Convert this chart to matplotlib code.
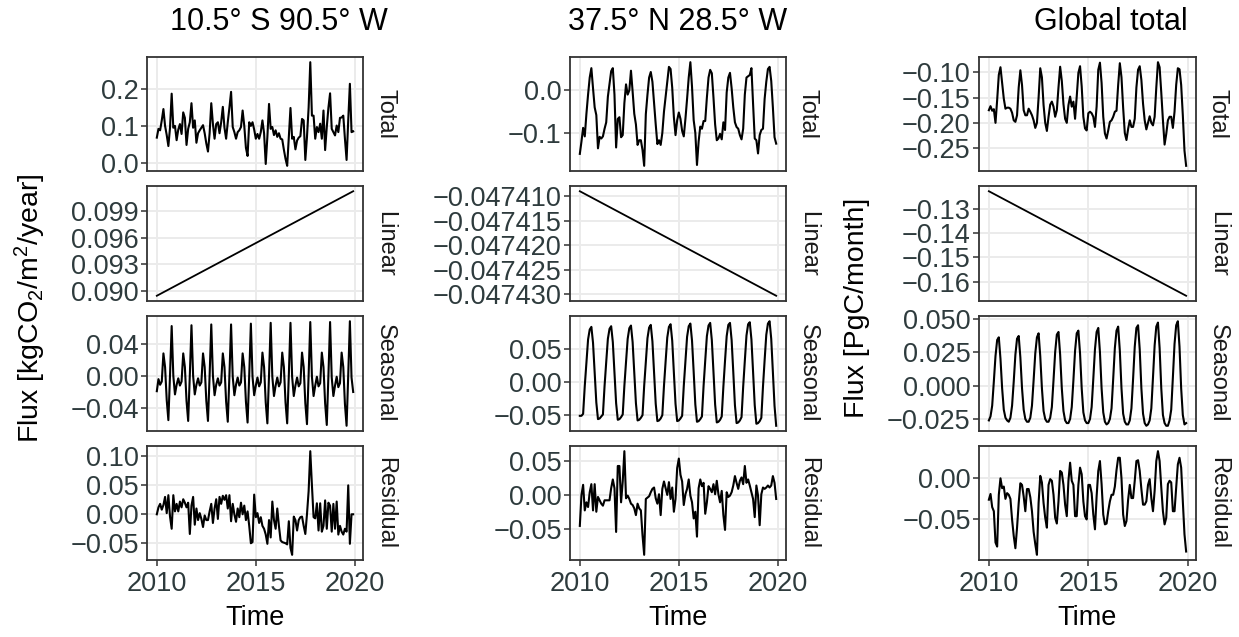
import matplotlib.pyplot as plt
import numpy as np

plt.rcParams['font.family'] = ['Liberation Sans', 'DejaVu Sans']
plt.rcParams['mathtext.fontset'] = 'custom'
plt.rcParams['mathtext.rm'] = 'Liberation Sans'
plt.rcParams['mathtext.it'] = 'Liberation Sans'

# monthly time axis, Jan 2010 .. Dec 2019
time = 2010 + np.arange(120) / 12

# ---- 10.5 S 90.5 W ----
left_total = [
    0.068, 0.092, 0.088, 0.115, 0.146, 0.100, 0.075, 0.045, 0.095, 0.188, 0.095, 0.100,
    0.061, 0.090, 0.105, 0.078, 0.137, 0.122, 0.048, 0.092, 0.110, 0.162, 0.095, 0.115,
    0.054, 0.080, 0.088, 0.095, 0.102, 0.080, 0.052, 0.030, 0.080, 0.162, 0.105, 0.065,
    0.105, 0.110, 0.080, 0.110, 0.152, 0.095, 0.065, 0.110, 0.150, 0.193, 0.097, 0.083,
    0.065, 0.083, 0.088, 0.097, 0.142, 0.100, 0.040, 0.018, 0.110, 0.100, 0.110, 0.090,
    0.065, 0.078, 0.065, 0.083, 0.115, 0.080, -0.004, 0.070, 0.160, 0.092, 0.097, 0.075,
    0.088, 0.070, 0.080, 0.065, 0.063, 0.035, 0.010, -0.009, 0.070, 0.149, 0.065, 0.070,
    0.036, 0.060, 0.068, 0.072, 0.119, 0.115, 0.007, 0.070, 0.150, 0.274, 0.128, 0.128,
    0.065, 0.097, 0.083, 0.106, 0.065, 0.142, 0.034, 0.097, 0.150, 0.189, 0.092, 0.083,
    0.074, 0.101, 0.083, 0.122, 0.123, 0.128, 0.065, 0.007, 0.115, 0.215, 0.083, 0.085,
]
left_linear = [0.08943, 0.1013]
left_seasonal = [
    -0.019, -0.004, -0.011, -0.007, 0.028, 0.011, -0.030, -0.055, 0.001, 0.062, 0.000, -0.023,
    -0.011, -0.003, -0.012, -0.007, 0.028, 0.011, -0.031, -0.056, 0.001, 0.063, 0.000, -0.023,
    -0.011, -0.003, -0.012, -0.008, 0.028, 0.011, -0.031, -0.056, 0.001, 0.064, 0.000, -0.024,
    -0.011, -0.003, -0.012, -0.008, 0.028, 0.011, -0.032, -0.057, 0.001, 0.064, -0.001, -0.024,
    -0.011, -0.002, -0.012, -0.008, 0.028, 0.011, -0.032, -0.058, 0.001, 0.065, -0.001, -0.024,
    -0.012, -0.002, -0.013, -0.008, 0.029, 0.011, -0.033, -0.059, 0.001, 0.066, -0.001, -0.025,
    -0.012, -0.002, -0.013, -0.008, 0.029, 0.011, -0.033, -0.059, 0.001, 0.066, -0.001, -0.025,
    -0.012, -0.002, -0.013, -0.009, 0.029, 0.011, -0.034, -0.060, 0.001, 0.067, -0.001, -0.025,
    -0.012, -0.001, -0.013, -0.009, 0.029, 0.011, -0.034, -0.061, 0.001, 0.067, -0.002, -0.025,
    -0.012, -0.001, -0.014, -0.009, 0.029, 0.011, -0.035, -0.062, 0.001, 0.068, -0.002, -0.020,
]
left_residual = [
    0.000, 0.012, 0.018, 0.008, 0.016, 0.030, 0.002, 0.033, -0.004, -0.025, 0.033, 0.005,
    0.018, 0.005, 0.022, 0.012, 0.026, 0.020, 0.012, 0.020, -0.034, 0.015, 0.030, -0.018,
    0.010, -0.010, 0.002, -0.008, -0.022, -0.002, -0.010, -0.010, 0.005, 0.018, -0.015, 0.010,
    0.026, -0.008, 0.030, 0.018, 0.032, 0.025, 0.033, 0.010, 0.033, -0.012, 0.018, 0.000,
    -0.013, 0.010, -0.005, 0.020, 0.000, 0.015, -0.010, 0.005, -0.020, -0.050, -0.048, 0.034,
    -0.005, 0.002, -0.015, -0.005, -0.020, -0.025, -0.035, -0.051, -0.010, -0.040, 0.022, -0.010,
    -0.025, 0.010, -0.020, -0.045, -0.048, -0.049, -0.050, -0.052, -0.012, -0.058, -0.070, -0.004,
    -0.010, -0.028, -0.010, -0.005, -0.004, -0.020, -0.034, 0.000, 0.040, 0.109, 0.050, -0.005,
    -0.007, 0.019, -0.028, 0.019, -0.030, -0.020, 0.024, -0.025, 0.020, 0.015, -0.030, 0.018,
    -0.025, 0.022, -0.035, -0.020, -0.030, -0.035, -0.025, -0.030, 0.050, -0.051, 0.000, 0.000,
]

# ---- 37.5 N 28.5 W ----
mid_total = [
    -0.149, -0.120, -0.088, -0.108, -0.055, -0.010, 0.030, 0.052, 0.005, -0.040, -0.058, -0.136,
    -0.109, -0.113, -0.108, -0.090, -0.075, -0.015, 0.015, 0.045, 0.052, -0.010, -0.134, -0.067,
    -0.063, -0.110, -0.105, -0.030, 0.014, -0.010, 0.000, 0.046, -0.003, -0.055, -0.080, -0.128,
    -0.117, -0.117, -0.140, -0.177, -0.056, -0.010, 0.030, 0.043, 0.020, -0.030, -0.080, -0.126,
    -0.117, -0.128, -0.100, -0.050, -0.015, 0.020, 0.055, 0.050, 0.006, -0.063, -0.105, -0.070,
    -0.052, -0.067, -0.095, -0.108, -0.067, -0.020, 0.030, 0.066, 0.008, -0.070, -0.100, -0.175,
    -0.120, -0.085, -0.090, -0.072, -0.072, -0.017, 0.030, 0.048, 0.040, -0.017, -0.080, -0.117,
    -0.113, -0.102, -0.115, -0.075, -0.093, -0.005, 0.030, 0.041, 0.005, -0.040, -0.075, -0.086,
    -0.090, -0.105, -0.115, -0.090, -0.010, 0.030, 0.033, 0.036, 0.052, -0.032, -0.113, -0.117,
    -0.148, -0.105, -0.093, -0.090, -0.020, 0.020, 0.050, 0.055, 0.022, -0.040, -0.110, -0.125,
]
mid_linear = [-0.0474090, -0.0474303]
mid_seasonal = [
    -0.051, -0.051, -0.048, -0.006, 0.029, 0.064, 0.079, 0.083, 0.059, 0.014, -0.031, -0.056,
    -0.055, -0.052, -0.049, -0.006, 0.030, 0.065, 0.080, 0.084, 0.060, 0.014, -0.032, -0.057,
    -0.056, -0.053, -0.049, -0.006, 0.030, 0.065, 0.081, 0.085, 0.060, 0.014, -0.032, -0.058,
    -0.057, -0.054, -0.050, -0.006, 0.030, 0.066, 0.082, 0.086, 0.061, 0.014, -0.033, -0.059,
    -0.058, -0.055, -0.050, -0.006, 0.031, 0.067, 0.083, 0.087, 0.062, 0.014, -0.033, -0.059,
    -0.058, -0.055, -0.051, -0.006, 0.031, 0.068, 0.084, 0.088, 0.062, 0.015, -0.034, -0.060,
    -0.059, -0.056, -0.052, -0.006, 0.032, 0.069, 0.085, 0.089, 0.063, 0.015, -0.034, -0.061,
    -0.060, -0.057, -0.052, -0.007, 0.032, 0.069, 0.086, 0.089, 0.063, 0.015, -0.035, -0.062,
    -0.061, -0.058, -0.053, -0.007, 0.032, 0.070, 0.087, 0.090, 0.064, 0.015, -0.035, -0.063,
    -0.062, -0.059, -0.054, -0.007, 0.033, 0.071, 0.088, 0.0915, 0.065, 0.015, -0.036, -0.066,
]
mid_residual = [
    -0.046, 0.000, 0.015, -0.023, -0.011, -0.018, 0.004, 0.016, -0.023, 0.016, -0.025, -0.003,
    -0.008, -0.013, -0.016, -0.008, -0.008, -0.008, -0.008, 0.010, 0.023, 0.010, -0.055, 0.043,
    0.043, -0.011, 0.020, 0.065, -0.005, -0.001, -0.006, -0.013, -0.015, -0.020, -0.030, -0.013,
    -0.020, -0.023, -0.060, -0.089, -0.006, -0.004, -0.002, 0.004, 0.009, 0.011, -0.005, -0.013,
    0.001, -0.030, 0.009, 0.020, 0.010, 0.000, 0.019, -0.006, 0.011, -0.025, -0.006, 0.040,
    0.054, 0.030, 0.020, -0.015, 0.001, 0.009, 0.023, -0.001, -0.011, -0.035, -0.025, -0.062,
    0.010, 0.023, 0.013, 0.018, -0.028, -0.011, 0.013, 0.009, 0.004, 0.016, 0.001, 0.021,
    0.001, -0.011, 0.006, -0.030, -0.052, 0.004, -0.003, -0.001, 0.004, 0.014, 0.028, 0.018,
    0.009, 0.021, 0.026, 0.016, 0.043, 0.018, 0.023, 0.014, 0.004, -0.006, -0.033, 0.014,
    -0.001, -0.045, 0.001, 0.011, 0.009, 0.011, 0.014, 0.011, 0.014, 0.028, 0.018, -0.006,
]

# ---- Global total ----
glob_total = [
    -0.175, -0.167, -0.176, -0.173, -0.200, -0.155, -0.105, -0.090, -0.121, -0.152, -0.172, -0.170,
    -0.170, -0.172, -0.180, -0.195, -0.198, -0.185, -0.130, -0.096, -0.125, -0.175, -0.185, -0.185,
    -0.172, -0.178, -0.185, -0.195, -0.210, -0.200, -0.150, -0.092, -0.110, -0.165, -0.200, -0.216,
    -0.188, -0.164, -0.158, -0.168, -0.188, -0.175, -0.130, -0.089, -0.117, -0.163, -0.192, -0.200,
    -0.165, -0.148, -0.168, -0.158, -0.192, -0.148, -0.101, -0.088, -0.128, -0.188, -0.211, -0.215,
    -0.181, -0.178, -0.181, -0.188, -0.208, -0.168, -0.095, -0.081, -0.121, -0.188, -0.221, -0.231,
    -0.215, -0.198, -0.195, -0.188, -0.178, -0.176, -0.125, -0.082, -0.110, -0.170, -0.220, -0.234,
    -0.212, -0.195, -0.208, -0.208, -0.192, -0.130, -0.095, -0.088, -0.115, -0.162, -0.195, -0.213,
    -0.200, -0.187, -0.200, -0.205, -0.188, -0.130, -0.080, -0.090, -0.140, -0.195, -0.243, -0.222,
    -0.195, -0.188, -0.188, -0.210, -0.178, -0.125, -0.092, -0.094, -0.125, -0.185, -0.255, -0.285,
]
glob_linear = [-0.1229, -0.1657]
glob_seasonal = [
    -0.026, -0.023, -0.015, 0.003, 0.022, 0.034, 0.036, 0.020, -0.002, -0.018, -0.024, -0.026,
    -0.027, -0.024, -0.015, 0.003, 0.023, 0.035, 0.037, 0.021, -0.002, -0.018, -0.025, -0.027,
    -0.027, -0.024, -0.015, 0.004, 0.024, 0.036, 0.039, 0.022, -0.002, -0.019, -0.025, -0.027,
    -0.027, -0.024, -0.016, 0.004, 0.025, 0.038, 0.040, 0.023, -0.002, -0.019, -0.026, -0.028,
    -0.028, -0.025, -0.016, 0.004, 0.026, 0.039, 0.041, 0.024, -0.002, -0.020, -0.026, -0.028,
    -0.028, -0.025, -0.016, 0.005, 0.027, 0.040, 0.043, 0.025, -0.002, -0.020, -0.027, -0.029,
    -0.028, -0.025, -0.017, 0.005, 0.028, 0.041, 0.044, 0.026, -0.002, -0.021, -0.027, -0.029,
    -0.029, -0.026, -0.017, 0.005, 0.029, 0.043, 0.045, 0.027, -0.002, -0.021, -0.028, -0.030,
    -0.029, -0.026, -0.017, 0.006, 0.030, 0.044, 0.047, 0.028, -0.002, -0.022, -0.028, -0.030,
    -0.030, -0.026, -0.018, 0.006, 0.031, 0.045, 0.048, 0.029, -0.002, -0.022, -0.029, -0.028,
]
glob_residual = [
    -0.026, -0.019, -0.035, -0.040, -0.078, -0.083, -0.020, 0.000, -0.012, -0.010, -0.025, -0.018,
    -0.020, -0.025, -0.050, -0.070, -0.085, -0.060, -0.030, -0.006, -0.008, -0.022, -0.040, -0.013,
    -0.013, -0.023, -0.040, -0.065, -0.080, -0.093, -0.030, 0.003, -0.005, -0.030, -0.048, -0.060,
    -0.008, -0.001, -0.003, -0.020, -0.048, -0.055, -0.028, 0.009, 0.007, -0.008, -0.032, -0.046,
    -0.003, 0.019, -0.003, -0.008, -0.046, -0.046, -0.008, 0.013, 0.005, -0.028, -0.046, -0.050,
    -0.008, -0.008, -0.018, -0.044, -0.062, -0.022, 0.009, 0.021, -0.007, -0.044, -0.056, -0.055,
    -0.040, -0.028, -0.020, -0.020, -0.010, 0.010, 0.025, 0.025, 0.000, -0.044, -0.058, -0.052,
    -0.026, -0.008, -0.024, -0.024, -0.003, 0.021, 0.022, 0.009, -0.013, -0.032, -0.032, -0.028,
    -0.008, -0.001, -0.024, -0.040, -0.015, 0.021, 0.033, 0.021, -0.011, -0.040, -0.056, -0.048,
    -0.007, -0.003, -0.005, -0.040, -0.040, -0.011, 0.017, 0.025, 0.013, -0.028, -0.068, -0.089,
]

titles = ['10.5° S 90.5° W', '37.5° N 28.5° W', 'Global total']
rows = ['Total', 'Linear', 'Seasonal', 'Residual']
x_ticks = [2010, 2015, 2020]

columns = [
    [left_total, left_linear, left_seasonal, left_residual],
    [mid_total, mid_linear, mid_seasonal, mid_residual],
    [glob_total, glob_linear, glob_seasonal, glob_residual],
]
y_ticks = [
    [['0.0', '0.1', '0.2'], ['0.090', '0.093', '0.096', '0.099'],
     ['−0.04', '0.00', '0.04'], ['−0.05', '0.00', '0.05', '0.10']],
    [['−0.1', '0.0'], ['−0.047430', '−0.047425', '−0.047420', '−0.047415', '−0.047410'],
     ['−0.05', '0.00', '0.05'], ['−0.05', '0.00', '0.05']],
    [['−0.25', '−0.20', '−0.15', '−0.10'], ['−0.16', '−0.15', '−0.14', '−0.13'],
     ['−0.025', '0.000', '0.025', '0.050'], ['−0.05', '0.00']],
]

# layout in pixels
W, H = 1239, 637
col_x = [(147, 363), (570, 786), (979, 1196)]
row_y = [(57, 171), (186, 301), (316, 431), (446, 560)]
title_x = [279, 678, 1111]

fig = plt.figure(figsize=(W / 100, H / 100), dpi=100)

tick_col = '#2E3B3D'
for c in range(3):
    x0, x1 = col_x[c]
    for r in range(4):
        y0, y1 = row_y[r]
        ax = fig.add_axes([x0 / W, 1 - y1 / H, (x1 - x0) / W, (y1 - y0) / H])
        vals = columns[c][r]
        if r == 1:
            ax.plot([time[0], time[-1]], vals, color='black', lw=1.3)
        else:
            ax.plot(time, vals, color='black', lw=1.5)
        ax.margins(x=0.05, y=0.05)
        labs = y_ticks[c][r]
        ax.set_yticks([float(s.replace('−', '-')) for s in labs])
        ax.set_yticklabels(labs)
        ax.set_xticks(x_ticks)
        ax.grid(True, color='#EBEBEB', lw=1.4)
        ax.set_axisbelow(True)
        for sp in ax.spines.values():
            sp.set_color('#333333')
            sp.set_linewidth(1.3)
        ax.tick_params(axis='y', length=4, width=1.1, color='#333333', pad=2,
                       labelsize=19.5, labelcolor=tick_col)
        if r == 3:
            ax.set_xticklabels([str(t) for t in x_ticks])
            ax.tick_params(axis='x', length=4, width=1.1, color='#333333', pad=4,
                           labelsize=19.5, labelcolor=tick_col)
        else:
            ax.tick_params(axis='x', length=0, labelbottom=False)
        ax.text(1.0 + 22 / (x1 - x0), 0.5, rows[r], transform=ax.transAxes,
                rotation=270, ha='center', va='center', fontsize=17, color='#1A1A1A')
    fig.text(title_x[c] / W, 1 - 22 / H, titles[c], ha='center', va='center',
             fontsize=22)
    fig.text((x0 + x1) / 2 / W, 1 - 618 / H, 'Time', ha='center', va='center',
             fontsize=19.5)

fig.text(30 / W, 1 - 308 / H, r'Flux [kgCO$_\mathrm{2}$/m$^\mathrm{2}$/year]',
         rotation=90, ha='center', va='center', fontsize=20.5)
fig.text(857 / W, 1 - 308 / H, 'Flux [PgC/month]',
         rotation=90, ha='center', va='center', fontsize=20.5)

fig.savefig('out.png', dpi=100)
